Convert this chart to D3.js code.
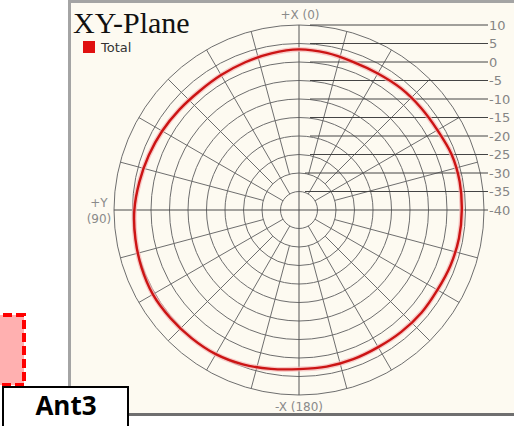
<!DOCTYPE html>
<html><head><meta charset="utf-8">
<script src="https://cdn.jsdelivr.net/npm/d3@7"></script>
<style>body{margin:0;background:#fff}svg{display:block}</style>
</head><body><svg id="c" width="514" height="426"></svg>
<script>
// ---- data ----
const angles = [0,10,20,30,40,50,60,70,80,90,100,110,120,130,140,150,160,170,
                180,190,200,210,220,230,240,250,260,270,280,290,300,310,320,330,340,350];
const totalDb = [3.4,3.0,2.5,2.1,1.9,2.2,2.7,3.2,3.8,4.5,4.9,5.3,5.6,5.4,5.2,5.0,4.4,3.6,
                 3.0,3.0,2.9,2.8,3.0,3.2,3.2,3.6,3.9,4.0,4.1,3.9,3.2,3.0,2.9,2.6,2.6,3.1];
const ringTicks = [10,5,0,-5,-10,-15,-20,-25,-30,-35,-40];
const ringLabels = ["10","5","0","-5","-10","-15","-20","-25","-30","-35","-40"];
const spokeAngles = d3.range(0,360,15);
const titleText = "XY-Plane";
const seriesName = "Total";

// ---- layout ----
const svg = d3.select("#c");
const cx = 299, cy = 210, R = 185;
const r = d3.scaleLinear().domain([-40,10]).range([0,R]);
const rad = d => d*Math.PI/180;
const px = (a,rr) => cx - rr*Math.sin(rad(a));
const py = (a,rr) => cy - rr*Math.cos(rad(a));

// decorations outside the panel
svg.append("rect").attr("x",-10).attr("y",315).attr("width",34).attr("height",70)
  .attr("fill","#ffb0b0").attr("stroke","#ff0000").attr("stroke-width",4)
  .attr("stroke-dasharray","9,4");

// panel
svg.append("rect").attr("x",68).attr("y",0).attr("width",446).attr("height",416).attr("fill","#a4a4a4");
svg.append("rect").attr("x",71).attr("y",3).attr("width",443).attr("height",410).attr("fill","#fdfaf1");
svg.append("rect").attr("x",68).attr("y",413).attr("width",446).attr("height",3).attr("fill","#6f6f6f");

const grid = svg.append("g").attr("fill","none").attr("stroke","#6e6e6e").attr("stroke-width",1);
// rings
ringTicks.filter(t=>t>-40).forEach(t=>{
  grid.append("circle").attr("cx",cx).attr("cy",cy).attr("r",r(t));
});
// spokes
spokeAngles.filter(a=>a%90!==0).forEach(a=>{
  const r0 = a%30===0 ? r(-35) : r(-30);
  grid.append("line").attr("x1",px(a,r0)).attr("y1",py(a,r0))
    .attr("x2",px(a,R)).attr("y2",py(a,R));
});
// axes
grid.append("line").attr("x1",cx).attr("y1",cy-R).attr("x2",cx).attr("y2",cy+R).attr("stroke","#555");
grid.append("line").attr("x1",cx-R).attr("y1",cy).attr("x2",488).attr("y2",cy).attr("stroke","#4a4a4a");

// ring label leader lines
const lab = svg.append("g");
ringTicks.forEach((t,i)=>{
  const y = cy - r(t);
  if (t>-40) lab.append("line").attr("x1",t>=-25?cx+11:cx+6).attr("y1",y).attr("x2",488).attr("y2",y)
      .attr("stroke","#444").attr("stroke-width",1);
  lab.append("text").attr("x",489).attr("y",y+4.5).text(ringLabels[i])
    .attr("font-family","DejaVu Sans").attr("font-size",13).attr("fill","#858585");
});

// axis labels
const axText = (x,y,s)=>svg.append("text").attr("x",x).attr("y",y).attr("text-anchor","middle")
  .attr("font-family","DejaVu Sans").attr("font-size",12).attr("fill","#8a8a8a").text(s);
axText(300,19,"+X (0)");
axText(299,411,"-X (180)");
axText(99,207,"+Y");
axText(99,223,"(90)");

// data curve
const pts = angles.map((a,i)=>[-rad(a), r(totalDb[i])]);
const line = d3.lineRadial().angle(d=>d[0]).radius(d=>d[1]).curve(d3.curveCardinalClosed.tension(0.2));
const g = svg.append("g").attr("transform",`translate(${cx},${cy})`);
g.append("path").attr("d",line(pts)).attr("fill","none").attr("stroke","#f3b5b5").attr("stroke-width",5).attr("opacity",0.7);
g.append("path").attr("d",line(pts)).attr("fill","none").attr("stroke","#cc1414").attr("stroke-width",2.4);

// title & legend
svg.append("text").attr("x",73).attr("y",33).text(titleText)
  .attr("font-family","Liberation Serif").attr("font-size",30).attr("fill","#111");
svg.append("rect").attr("x",83).attr("y",41).attr("width",12).attr("height",12).attr("fill","#e01010");
svg.append("text").attr("x",101).attr("y",52).text(seriesName)
  .attr("font-family","DejaVu Sans").attr("font-size",13).attr("fill","#333");

// Ant3 box
svg.append("rect").attr("x",3).attr("y",387).attr("width",125).attr("height",50)
  .attr("fill","#fff").attr("stroke","#000").attr("stroke-width",2);
svg.append("text").attr("x",66).attr("y",415).attr("text-anchor","middle").text("Ant3")
  .attr("font-family","Open Sans").attr("font-weight",700).attr("font-size",26).attr("fill","#000");
</script></body></html>
